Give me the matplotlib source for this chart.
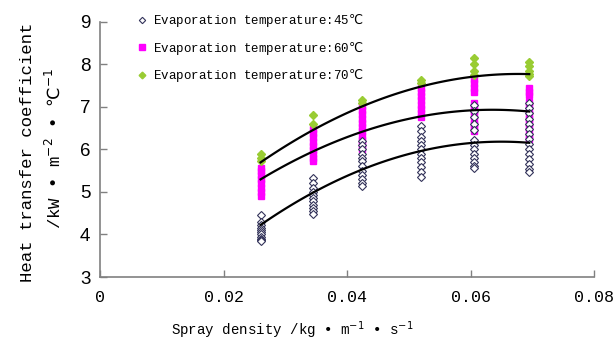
import matplotlib
matplotlib.use("Agg")
import matplotlib.pyplot as plt
import numpy as np

plt.rcParams["mathtext.fontset"] = "dejavusans"

# spray density of each test column (kg/(m*s))
spray = [0.026, 0.0345, 0.0425, 0.052, 0.0606, 0.0695]

# measured heat transfer coefficient, one list per column
k45 = [
    [4.45, 4.3, 4.22, 4.15, 4.1, 4.05, 4.0, 3.95, 3.9, 3.87, 3.85],
    [5.32, 5.2, 5.1, 5.0, 4.92, 4.85, 4.78, 4.7, 4.62, 4.55, 4.48],
    [6.2, 6.1, 6.0, 5.9, 5.8, 5.72, 5.62, 5.5, 5.4, 5.3, 5.2, 5.13],
    [6.55, 6.42, 6.3, 6.2, 6.1, 6.0, 5.9, 5.8, 5.7, 5.58, 5.47, 5.36],
    [7.05, 6.9, 6.75, 6.6, 6.45, 6.22, 6.1, 6.0, 5.9, 5.8, 5.7, 5.62, 5.56],
    [7.1, 6.98, 6.85, 6.72, 6.6, 6.48, 6.36, 6.25, 6.12, 6.0, 5.9, 5.78, 5.66, 5.55, 5.47],
]
k60 = [
    [5.57, 5.48, 5.4, 5.3, 5.2, 5.1, 5.0, 4.9],
    [6.47, 6.38, 6.28, 6.18, 6.08, 5.98, 5.88, 5.8, 5.72],
    [7.02, 6.92, 6.82, 6.72, 6.62, 6.52, 6.42, 6.32, 6.22, 6.12, 6.02],
    [7.45, 7.35, 7.25, 7.15, 7.05, 6.95, 6.85, 6.75],
    [7.65, 7.55, 7.45, 7.35, 7.1, 7.0, 6.9, 6.8, 6.7, 6.6, 6.5, 6.43],
    [7.45, 7.35, 7.27, 7.12, 7.02, 6.92, 6.82, 6.72, 6.62, 6.52, 6.42, 6.32, 6.25],
]
k70 = [
    [5.9, 5.8, 5.73],
    [6.8, 6.6],
    [7.15, 7.1],
    [7.62, 7.55],
    [8.15, 8.0, 7.85, 7.75],
    [8.05, 7.95, 7.85, 7.78, 7.72],
]

# trend line values read at each column
fit45 = [4.22, 4.97, 5.56, 5.98, 6.1, 6.18]
fit60 = [5.28, 5.94, 6.5, 6.73, 6.88, 6.92]
fit70 = [5.7, 6.41, 7.08, 7.47, 7.67, 7.79]

labels = ["Evaporation temperature:45$\\mathrm{℃}$",
          "Evaporation temperature:60$\\mathrm{℃}$",
          "Evaporation temperature:70$\\mathrm{℃}$"]

mono = ["Liberation Mono", "DejaVu Sans Mono", "DejaVu Sans"]


def flat(groups):
    xs, ys = [], []
    for x, col in zip(spray, groups):
        xs += [x] * len(col)
        ys += col
    return xs, ys


fig = plt.figure(figsize=(6.15, 3.46), dpi=100)
ax = fig.add_axes([0.1626, 0.1994, 0.8034, 0.7378])

x60, y60 = flat(k60)
h60, = ax.plot(x60, y60, "s", ms=5, color="#FF00FF", mec="#FF00FF", zorder=2)
x45, y45 = flat(k45)
h45, = ax.plot(x45, y45, "D", ms=3.8, mfc="white", mec="#33335a", mew=0.8, zorder=3)
x70, y70 = flat(k70)
h70, = ax.plot(x70, y70, "D", ms=4, color="#99CC33", mec="#99CC33", zorder=3)

xx = np.linspace(spray[0], spray[-1], 100)
for f in (fit45, fit60, fit70):
    p = np.poly1d(np.polyfit(spray, f, 2))
    ax.plot(xx, p(xx), color="black", lw=1.6, zorder=4)

ax.set_xlim(0, 0.08)
ax.set_ylim(3, 9)
ax.set_xticks([0, 0.02, 0.04, 0.06, 0.08])
ax.set_xticklabels(["0", "0.02", "0.04", "0.06", "0.08"], family=mono, fontsize=12)
ax.set_yticks([3, 4, 5, 6, 7, 8, 9])
ax.set_yticklabels(["3", "4", "5", "6", "7", "8", "9"], family="Liberation Sans", fontsize=13.5)
ax.tick_params(direction="in", length=5, color="#808080", width=1)
ax.tick_params(axis="x", pad=9)
ax.tick_params(axis="y", pad=7)
for s in ("top", "right"):
    ax.spines[s].set_visible(False)
for s in ("left", "bottom"):
    ax.spines[s].set_color("#808080")
    ax.spines[s].set_linewidth(1.2)

fig.text(0.475, 0.045, "Spray density /kg • m$^{-1}$ • s$^{-1}$",
         family=mono, fontsize=10.2, ha="center", va="center")
fig.text(0.044, 0.56, "Heat transfer coefficient", family=mono, fontsize=12.5,
         rotation=90, ha="center", va="center")
fig.text(0.086, 0.57, "/kW • m$^{-2}$ • $\\mathrm{℃}^{-1}$", family=mono, fontsize=12.5,
         rotation=90, ha="center", va="center")

ax.legend([h45, h60, h70], labels, loc="upper left",
          bbox_to_anchor=(0.222, 0.965), bbox_transform=fig.transFigure,
          frameon=False, prop={"family": mono, "size": 9}, markerscale=0.85,
          handlelength=0.8, handletextpad=0.5, labelspacing=0.84, borderpad=0,
          borderaxespad=0)

fig.savefig("out.png", dpi=100)
